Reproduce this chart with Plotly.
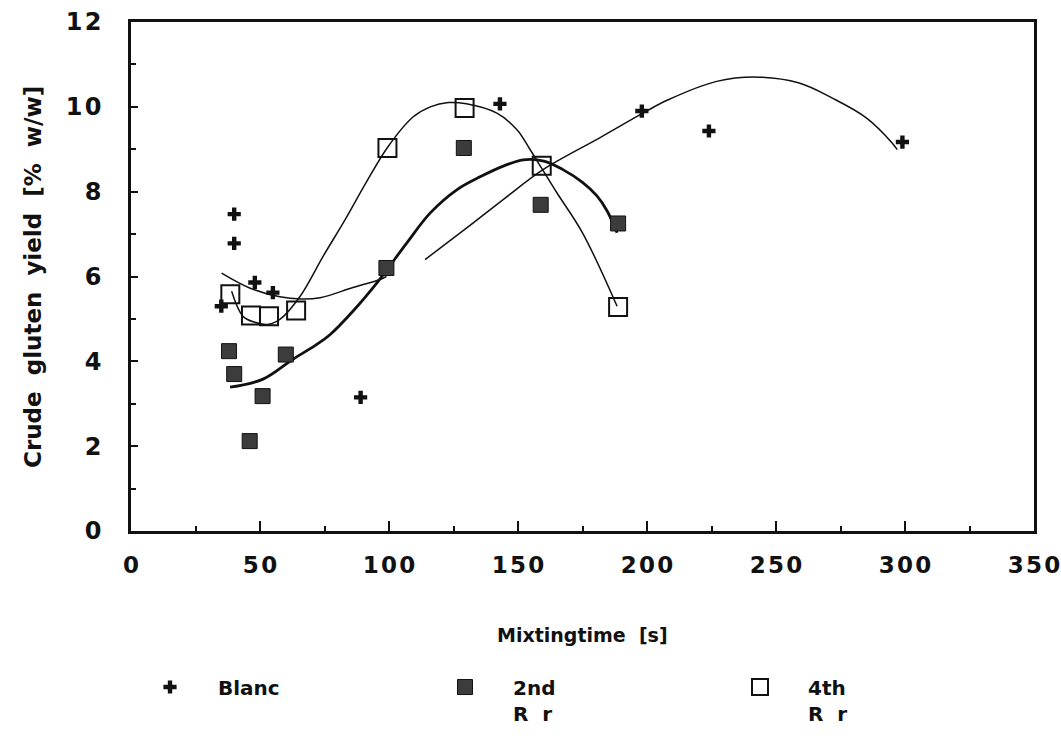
import plotly.graph_objects as go

# ---- data ----
blanc_x = [35, 40, 40, 48, 55, 89, 143, 198, 224, 299]
blanc_y = [5.3, 7.47, 6.78, 5.86, 5.62, 3.15, 10.07, 9.9, 9.43, 9.17]

second_x = [38, 40, 46, 51, 60, 99, 129, 158.8, 188.8]
second_y = [4.24, 3.7, 2.12, 3.18, 4.16, 6.2, 9.03, 7.69, 7.25]

fourth_x = [38.5, 46.5, 53.5, 64, 99.4, 129.3, 159.2, 188.8]
fourth_y = [5.58, 5.08, 5.06, 5.2, 9.03, 9.97, 8.61, 5.28]

# fitted curves
blanc_fit_x = [35.1, 46, 57.7, 66, 73.3, 86, 96.5, 99, None,
               114, 130, 145, 159.7, 182, 198.4, 208, 227, 243, 259, 272, 285, 295, 297]
blanc_fit_y = [6.08, 5.73, 5.52, 5.47, 5.5, 5.74, 5.93, 6.0, None,
               6.4, 7.14, 7.85, 8.52, 9.28, 9.85, 10.16, 10.6, 10.7, 10.56, 10.2, 9.74, 9.15, 8.99]

second_fit_x = [38.4, 51.2, 62.8, 72, 77, 86, 95.7, 107, 116, 126.4, 135.3, 145, 152, 160, 167.4, 175, 180.6, 184.5, 188.4]
second_fit_y = [3.39, 3.58, 4.05, 4.4, 4.62, 5.18, 5.88, 6.8, 7.5, 8.05, 8.35, 8.62, 8.75, 8.72, 8.52, 8.22, 7.9, 7.55, 7.03]

fourth_fit_x = [39, 43.4, 48, 52.7, 57.7, 65.5, 74.4, 83, 91, 99.6, 109.3, 116, 123, 130,
                141.8, 149.6, 154.6, 159.7, 165, 175, 188.4]
fourth_fit_y = [5.65, 5.06, 4.92, 4.87, 4.99, 5.53, 6.47, 7.34, 8.2, 9.06, 9.76, 10.0, 10.1, 10.07,
                9.85, 9.46, 9.0, 8.5, 7.98, 7.03, 5.3]

x_ticks = [0, 50, 100, 150, 200, 250, 300, 350]
y_ticks = [0, 2, 4, 6, 8, 10, 12]

FONT = "DejaVu Sans"
INK = "#111111"

fig = go.Figure()

# fitted lines
fig.add_trace(go.Scatter(x=blanc_fit_x, y=blanc_fit_y, mode="lines", showlegend=False,
                         line=dict(color=INK, width=1.5, shape="spline", smoothing=1),
                         connectgaps=False, hoverinfo="skip"))
fig.add_trace(go.Scatter(x=second_fit_x, y=second_fit_y, mode="lines", showlegend=False,
                         line=dict(color=INK, width=2.8, shape="spline", smoothing=1),
                         hoverinfo="skip"))
fig.add_trace(go.Scatter(x=fourth_fit_x, y=fourth_fit_y, mode="lines", showlegend=False,
                         line=dict(color=INK, width=1.5, shape="spline", smoothing=1),
                         hoverinfo="skip"))

# data points
fig.add_trace(go.Scatter(x=blanc_x, y=blanc_y, mode="markers", name="Blanc",
                         marker=dict(symbol="cross", size=11, color=INK, line=dict(width=0))))
fig.add_trace(go.Scatter(x=second_x, y=second_y, mode="markers", name="2nd<br>R  r",
                         marker=dict(symbol="square", size=15, color="#3c3c3c",
                                     line=dict(color=INK, width=1))))
fig.add_trace(go.Scatter(x=fourth_x, y=fourth_y, mode="markers", name="4th<br>R  r",
                         marker=dict(symbol="square", size=18, color="rgba(255,255,255,0)",
                                     line=dict(color=INK, width=2))))

def spaced(v):
    return "\u200a".join(str(v))

fig.update_layout(
    width=1061, height=738,
    margin=dict(l=131, r=27, t=22, b=207, autoexpand=False),
    paper_bgcolor="white", plot_bgcolor="white",
    font=dict(family=FONT, color=INK),
    xaxis=dict(range=[0, 350], tickvals=x_ticks, ticktext=[spaced(v) for v in x_ticks],
               ticks="inside", ticklen=10, tickwidth=2, tickcolor=INK,
               minor=dict(dtick=25, ticks="inside", ticklen=5, tickwidth=2, tickcolor=INK),
               showline=True, linewidth=2.5, linecolor=INK, mirror=True,
               showgrid=False, zeroline=False, ticklabeloverflow="allow", automargin=False,
               tickfont=dict(family=FONT, size=23, weight="bold", color=INK),
               ticklabelstandoff=12),
    yaxis=dict(range=[0, 12], tickvals=y_ticks, ticktext=[spaced(v) for v in y_ticks],
               ticks="inside", ticklen=7, tickwidth=2, tickcolor=INK,
               minor=dict(dtick=1, ticks="inside", ticklen=5, tickwidth=2, tickcolor=INK),
               showline=True, linewidth=2.5, linecolor=INK, mirror=True,
               showgrid=False, zeroline=False, ticklabeloverflow="allow", automargin=False,
               tickfont=dict(family=FONT, size=24, weight="bold", color=INK),
               ticklabelstandoff=22),
    legend=dict(orientation="h", xref="container", yref="container",
                x=122 / 1061, y=0.0955, xanchor="left", yanchor="top",
                itemwidth=86, entrywidth=194, entrywidthmode="pixels",
                valign="top", bgcolor="rgba(0,0,0,0)", borderwidth=0,
                font=dict(family=FONT, size=20, weight="bold", color=INK),
                tracegroupgap=0),
    annotations=[
        dict(text="Mixtingtime  [s]", xref="paper", yref="paper",
             x=0.5, y=-(635 - 531) / 509, xanchor="center", yanchor="middle",
             showarrow=False, font=dict(family=FONT, size=19, weight="bold", color=INK)),
        dict(text="Crude  gluten  yield  [%  w/w]", xref="paper", yref="paper",
             x=(33 - 131) / 903, y=(531 - 277) / 509, xanchor="center", yanchor="middle",
             textangle=-90, showarrow=False,
             font=dict(family=FONT, size=23, weight="bold", color=INK)),
    ],
)

fig.write_html("out.html")
